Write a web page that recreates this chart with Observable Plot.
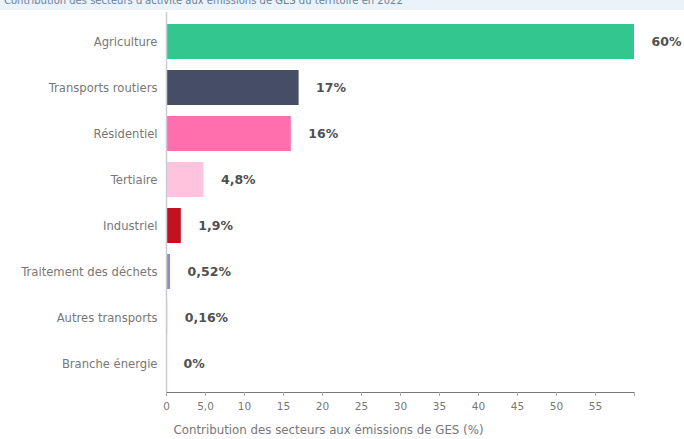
<!DOCTYPE html>
<html>
<head>
<meta charset="utf-8">
<script src="https://cdn.jsdelivr.net/npm/d3@7"></script>
<script src="https://cdn.jsdelivr.net/npm/@observablehq/plot@0.6"></script>
<style>
  html, body { margin: 0; padding: 0; background: #fff; width: 684px; height: 439px; overflow: hidden; }
  #top { height: 10px; background: #eaf2fa; overflow: hidden; font-family: "DejaVu Sans", sans-serif; font-size: 10px; line-height: 12px; color: #6a7f99; }
  #top span { display: block; margin-top: -5px; padding-left: 4px; white-space: nowrap; }
  svg { display: block; }
</style>
</head>
<body>
<div id="top"><span>Contribution des secteurs d'activité aux émissions de GES du territoire en 2022</span></div>
<div id="chart"></div>
<script>
const sectors = ["Agriculture", "Transports routiers", "Résidentiel", "Tertiaire", "Industriel", "Traitement des déchets", "Autres transports", "Branche énergie"];
const values = [60, 17, 16, 4.8, 1.9, 0.52, 0.16, 0];
const valueLabels = ["60%", "17%", "16%", "4,8%", "1,9%", "0,52%", "0,16%", "0%"];
const colors = ["#34c68f", "#464e66", "#ff6fae", "#ffc3dd", "#c2111f", "#8b8fc2", "#b9bce0", "#cccccc"];
const tickValues = [0, 5, 10, 15, 20, 25, 30, 35, 40, 45, 50, 55, 60];
const tickLabels = ["0", "5,0", "10", "15", "20", "25", "30", "35", "40", "45", "50", "55", ""];
const axisTitle = "Contribution des secteurs aux émissions de GES (%)";

const data = sectors.map((s, i) => ({sector: s, value: values[i], label: valueLabels[i], color: colors[i]}));
const tickMap = new Map(tickValues.map((v, i) => [v, tickLabels[i]]));

const chart = Plot.plot({
  width: 684,
  height: 429,
  marginLeft: 166,
  marginRight: 50,
  marginTop: 2,
  marginBottom: 47,
  insetTop: 5,
  insetBottom: 4,
  style: {fontFamily: "'DejaVu Sans', sans-serif", fontSize: "10.5px", color: "#777", background: "#fff"},
  x: {domain: [0, 60], ticks: tickValues, tickFormat: d => tickMap.get(d), tickSize: 4, tickPadding: 6, line: true, label: null},
  y: {domain: sectors, paddingInner: 0.24, paddingOuter: 0.12, tickSize: 0, tickPadding: 9, label: null},
  marks: [
    Plot.barX(data, {x: "value", y: "sector", fill: "color"}),
    Plot.ruleX([0], {stroke: "#c9cbdc", strokeWidth: 1.5}),
    Plot.text(data, {x: "value", y: "sector", text: "label", dx: 17, textAnchor: "start", fontWeight: "bold", fontSize: 12.5, fill: "#505050"}),
    Plot.text([axisTitle], {frameAnchor: "bottom-left", textAnchor: "start", dy: 41, dx: 7, fontSize: 11.8, fill: "#777"})
  ]
});
d3.select(chart).select("[aria-label='y-axis tick label']").attr("font-size", 11.6);
d3.select(chart).selectAll("[aria-label='x-axis tick'], [aria-label='x-axis line']").attr("stroke", "#aaa");
document.getElementById("chart").appendChild(chart);
</script>
</body>
</html>
